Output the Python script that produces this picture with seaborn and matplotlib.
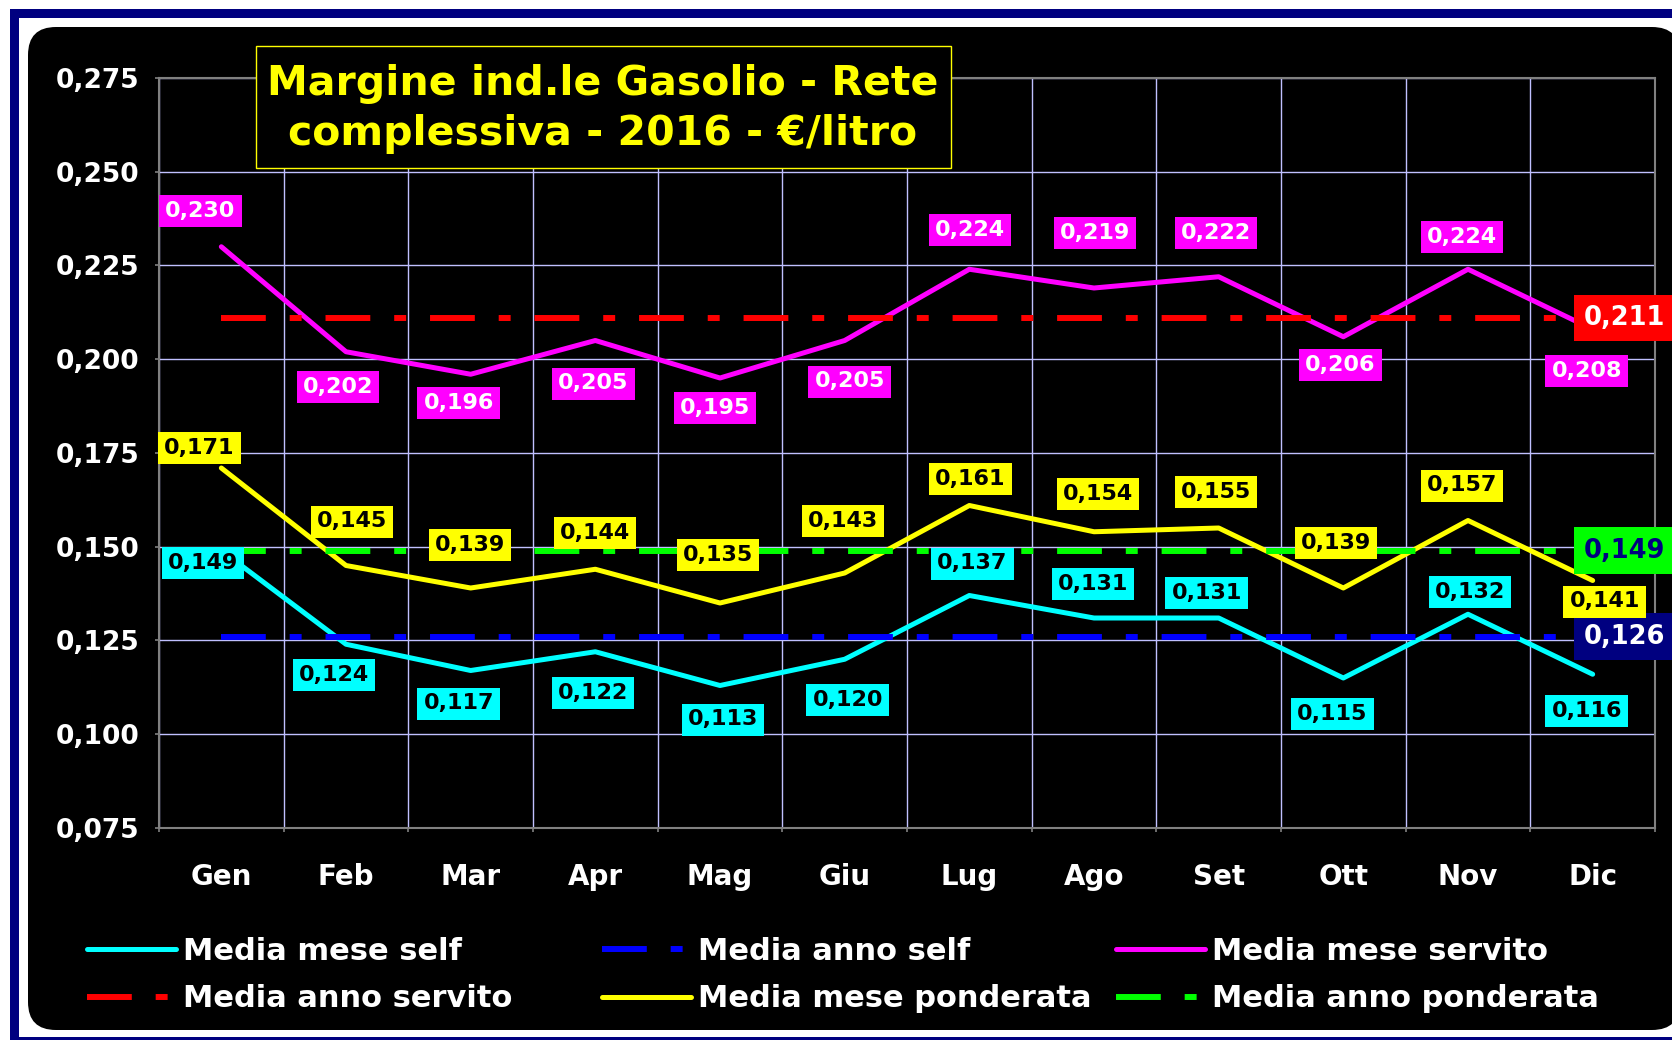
import matplotlib
matplotlib.use('Agg')
import matplotlib.pyplot as plt
import numpy as np
import pandas as pd
import seaborn as sns
from matplotlib.lines import Line2D
from matplotlib.patches import Rectangle, FancyBboxPatch
from matplotlib.ticker import FuncFormatter, MultipleLocator
from matplotlib.transforms import IdentityTransform

# dati (€/litro)
mesi = ['Gen', 'Feb', 'Mar', 'Apr', 'Mag', 'Giu', 'Lug', 'Ago', 'Set', 'Ott', 'Nov', 'Dic']
mese_self = [0.149, 0.124, 0.117, 0.122, 0.113, 0.120, 0.137, 0.131, 0.131, 0.115, 0.132, 0.116]
mese_servito = [0.230, 0.202, 0.196, 0.205, 0.195, 0.205, 0.224, 0.219, 0.222, 0.206, 0.224, 0.208]
mese_ponderata = [0.171, 0.145, 0.139, 0.144, 0.135, 0.143, 0.161, 0.154, 0.155, 0.139, 0.157, 0.141]
anno_self = 0.126
anno_servito = 0.211
anno_ponderata = 0.149

# posizione etichette (pixel: dx, dy verso il basso)
off_self = [(-18, 12), (-12, 31), (-12, 33), (-2, 41), (3, 34), (3, 41),
            (3, -32), (-1, -34), (-12, -25), (-11, 36), (2, -22), (-6, 37)]
off_servito = [(-21, -36), (-8, 35), (-12, 29), (-2, 43), (-5, 30), (5, 41),
               (1, -39), (1, -55), (-3, -44), (-3, 28), (-6, -32), (-6, 42)]
off_ponderata = [(-22, -20), (6, -44), (-1, -43), (0, -36), (-2, -48), (-2, -52),
                 (1, -27), (4, -38), (-3, -36), (-7, -45), (-6, -35), (12, 21)]

CYAN, MAGENTA, YELLOW = '#00ffff', '#ff00ff', '#ffff00'
RED, BLUE, GREEN, NAVY = '#ff0000', '#0000ff', '#00ff00', '#000080'
GRID = '#c0c0ff'

plt.rcParams['font.family'] = ['DejaVu Sans']
plt.rcParams['font.weight'] = 'bold'

W, H = 1672, 1040
fig = plt.figure(figsize=(W / 100, H / 100), dpi=100, facecolor='white')

# cornice blu + sfondo nero arrotondato
fig.add_artist(Rectangle((10, H - 1046), 1700, 1037, fc=NAVY, ec='none',
                         transform=IdentityTransform(), zorder=-3))
fig.add_artist(Rectangle((19, H - 1037), 1690, 1019, fc='white', ec='none',
                         transform=IdentityTransform(), zorder=-2))
fig.add_artist(FancyBboxPatch((28, H - 1030), 1652, 1003,
                              boxstyle='round,pad=0,rounding_size=28',
                              fc='black', ec='none',
                              transform=IdentityTransform(), zorder=-1))

ax = fig.add_axes([159 / W, 1 - 828 / H, 1496 / W, 750 / H])
ax.set_facecolor('black')

x = np.arange(len(mesi))
df = pd.DataFrame({'x': x, 'self': mese_self, 'servito': mese_servito,
                   'ponderata': mese_ponderata})

lw_mese = 3.6
lw_anno = 4.3
dash = (0, (7.5, 4, 2, 4))

sns.lineplot(data=df, x='x', y='self', color=CYAN, lw=lw_mese, ax=ax,
             solid_capstyle='round', zorder=3)
ax.hlines(anno_self, x[0], x[-1], colors=BLUE, lw=lw_anno, linestyles=dash, zorder=3)
sns.lineplot(data=df, x='x', y='servito', color=MAGENTA, lw=lw_mese, ax=ax,
             solid_capstyle='round', zorder=3)
ax.hlines(anno_servito, x[0], x[-1], colors=RED, lw=lw_anno, linestyles=dash, zorder=3)
sns.lineplot(data=df, x='x', y='ponderata', color=YELLOW, lw=lw_mese, ax=ax,
             solid_capstyle='round', zorder=3)
ax.hlines(anno_ponderata, x[0], x[-1], colors=GREEN, lw=lw_anno, linestyles=dash, zorder=3)


def fmt(v):
    return f'{v:.3f}'.replace('.', ',')


for vals, offs, fc, tc in [(mese_self, off_self, CYAN, 'black'),
                           (mese_servito, off_servito, MAGENTA, 'white'),
                           (mese_ponderata, off_ponderata, YELLOW, 'black')]:
    for xi, v, (dx, dy) in zip(x, vals, offs):
        ax.annotate(fmt(v), (xi, v), xytext=(dx, -dy), textcoords='offset pixels',
                    ha='center', va='center', fontsize=16, fontweight='bold', color=tc,
                    bbox=dict(boxstyle='square,pad=0.27', fc=fc, ec='none'),
                    annotation_clip=False, zorder=6)

# etichette medie annue a destra
for v, fc, tc, z in [(anno_self, NAVY, 'white', 5),
                     (anno_servito, RED, 'white', 7),
                     (anno_ponderata, GREEN, NAVY, 7)]:
    ax.annotate(fmt(v), (x[-1], v), xytext=(32, 0), textcoords='offset pixels',
                ha='center', va='center', fontsize=18.5, fontweight='bold', color=tc,
                bbox=dict(boxstyle='square,pad=0.4', fc=fc, ec='none'),
                annotation_clip=False, zorder=z)

ax.set_xlim(-0.5, len(mesi) - 0.5)
ax.set_ylim(0.075, 0.275)
ax.set_xlabel('')
ax.set_ylabel('')
ax.set_xticks(x)
ax.set_xticklabels(mesi)
ax.set_xticks(np.arange(len(mesi) + 1) - 0.5, minor=True)
ax.yaxis.set_major_locator(MultipleLocator(0.025))
ax.yaxis.set_major_formatter(FuncFormatter(lambda v, _: fmt(v)))

ax.tick_params(axis='x', which='major', length=0, pad=25, labelsize=20, labelcolor='white')
ax.tick_params(axis='x', which='minor', length=3, width=1.2, color='#808080')
ax.tick_params(axis='y', which='major', length=3, width=1.2, color='#808080',
               pad=11, labelsize=19, labelcolor='white')
for lab in ax.get_xticklabels() + ax.get_yticklabels():
    lab.set_fontweight('bold')

ax.grid(which='minor', axis='x', color=GRID, lw=1)
ax.grid(which='major', axis='y', color=GRID, lw=1)
ax.grid(which='major', axis='x', visible=False)
ax.set_axisbelow(True)
for sp in ax.spines.values():
    sp.set_color('#808080')
    sp.set_linewidth(1.5)

# titolo
fig.add_artist(Rectangle((256, H - 168), 695, 122, fc='black', ec=YELLOW, lw=1,
                         transform=IdentityTransform(), zorder=2))
fig.text(603 / W, 1 - 109 / H, 'Margine ind.le Gasolio - Rete\ncomplessiva - 2016 - €/litro',
         ha='center', va='center', fontsize=29.5, fontweight='bold', color=YELLOW,
         linespacing=1.3, zorder=3)

# legenda su tre colonne
def h_solid(c):
    return Line2D([], [], color=c, lw=lw_mese, solid_capstyle='round')


def h_dash(c):
    return Line2D([], [], color=c, lw=lw_anno, linestyle=dash)


colonne = [
    (87, [h_solid(CYAN), h_dash(RED)], ['Media mese self', 'Media anno servito']),
    (602, [h_dash(BLUE), h_solid(YELLOW)], ['Media anno self', 'Media mese ponderata']),
    (1116, [h_solid(MAGENTA), h_dash(GREEN)], ['Media mese servito', 'Media anno ponderata']),
]
for xpx, handles, labels in colonne:
    leg = fig.legend(handles, labels, loc='center left',
                     bbox_to_anchor=(xpx / W, 1 - 975 / H), frameon=False,
                     borderpad=0, borderaxespad=0, handlelength=2.9,
                     handletextpad=0.25, labelspacing=0.62,
                     prop={'size': 22, 'weight': 'bold'})
    for t in leg.get_texts():
        t.set_color('white')

fig.savefig('out.png', dpi=100, facecolor='white')
